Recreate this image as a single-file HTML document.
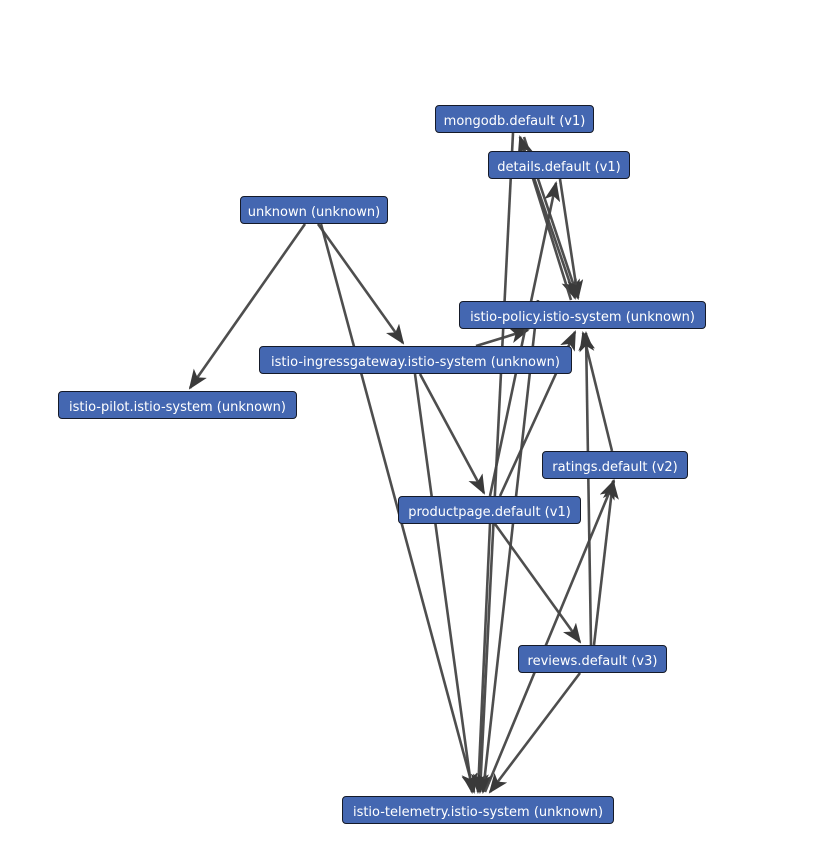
<!DOCTYPE html>
<html><head><meta charset="utf-8"><style>
body{margin:0;background:#fff;width:827px;height:846px;overflow:hidden}
svg{position:absolute;left:0;top:0}
.n{position:absolute;height:26px;background:#4467b1;border:1.5px solid #151a28;border-radius:4px;color:#fff;font:13px "DejaVu Sans",sans-serif;line-height:32px;text-align:center;box-sizing:content-box;white-space:nowrap}
</style></head><body>
<svg width="827" height="846">
<defs>
<marker id="b" markerWidth="20" markerHeight="16" refX="18" refY="8" orient="auto" markerUnits="userSpaceOnUse"><path d="M0,0L20,8L0,16L5,8z" fill="#3a3a3a"/></marker></defs>
<g stroke="#444" stroke-width="2.6" fill="none" stroke-opacity="0.95" marker-end="url(#b)">
<line x1="305" y1="224" x2="190" y2="388"/>
<line x1="318" y1="224" x2="403" y2="343"/>
<line x1="321" y1="224" x2="474" y2="792"/>
<line x1="420" y1="374" x2="484" y2="493"/>
<line x1="415" y1="374" x2="472" y2="792"/>
<line x1="476" y1="346" x2="528" y2="330"/>
<line x1="490" y1="496" x2="556" y2="183"/>
<line x1="500" y1="496" x2="575" y2="332"/>
<line x1="490" y1="524" x2="478" y2="792"/>
<line x1="495" y1="524" x2="580" y2="642"/>
<line x1="513" y1="133" x2="480" y2="792"/>
<line x1="520" y1="137" x2="575" y2="298"/>
<line x1="524" y1="137" x2="578" y2="298"/>
<line x1="560" y1="179" x2="578" y2="298"/>
<line x1="538" y1="300" x2="483" y2="792"/>
<line x1="571" y1="300" x2="520" y2="137"/>
<line x1="612" y1="451" x2="583" y2="333"/>
<line x1="591" y1="645" x2="586" y2="333"/>
<line x1="594" y1="645" x2="613" y2="481"/>
<line x1="580" y1="673" x2="490" y2="792"/>
<line x1="485" y1="792" x2="614" y2="481"/>
</g>
</svg>
<div class="n" style="left:435px;top:105px;width:157px">mongodb.default (v1)</div>
<div class="n" style="left:488px;top:151px;width:140px">details.default (v1)</div>
<div class="n" style="left:240px;top:196px;width:146px">unknown (unknown)</div>
<div class="n" style="left:459px;top:301px;width:245px">istio-policy.istio-system (unknown)</div>
<div class="n" style="left:259px;top:346px;width:311px">istio-ingressgateway.istio-system (unknown)</div>
<div class="n" style="left:58px;top:391px;width:237px">istio-pilot.istio-system (unknown)</div>
<div class="n" style="left:542px;top:451px;width:144px">ratings.default (v2)</div>
<div class="n" style="left:398px;top:496px;width:181px">productpage.default (v1)</div>
<div class="n" style="left:518px;top:645px;width:147px">reviews.default (v3)</div>
<div class="n" style="left:342px;top:796px;width:270px">istio-telemetry.istio-system (unknown)</div>
</body></html>
